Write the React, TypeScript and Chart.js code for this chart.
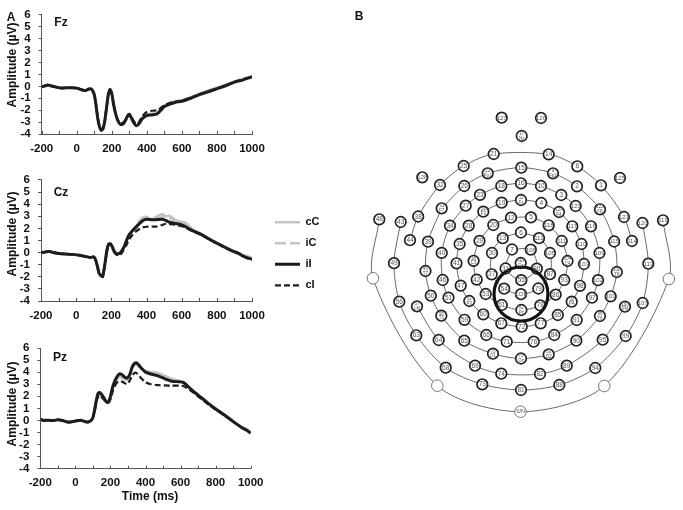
import React, { useEffect, useRef } from "react";
import { Chart, registerables } from "chart.js";

Chart.register(...registerables);

const FONT = "'Liberation Sans', Arial, sans-serif";
const LEGEND_ORDER = ["cC", "iC", "iI", "cI"];

const FZ_TIME = [-200,-180,-165,-150,-120,-90,-60,-30,0,30,50,70,85,100,110,120,130,140,150,160,170,180,190,200,210,220,235,250,265,280,290,300,310,325,340,355,375,400,430,460,480,500,530,560,600,650,700,750,800,850,900,950,1000];
const FZ_II = [-0.05,0.05,0.12,0.05,-0.05,-0.15,-0.12,-0.12,-0.15,-0.3,-0.35,-0.22,-0.25,-0.7,-1.6,-2.7,-3.4,-3.7,-3.55,-2.9,-1.8,-0.7,-0.25,-0.6,-1.5,-2.2,-2.9,-3.2,-3.15,-2.8,-2.5,-2.35,-2.6,-3.05,-3.3,-3.15,-2.7,-2.45,-2.4,-2.3,-2.0,-1.7,-1.5,-1.35,-1.25,-1.0,-0.7,-0.45,-0.2,0.05,0.35,0.55,0.8];
const FZ_CI = [-0.05,0.05,0.1,0.05,-0.05,-0.13,-0.12,-0.12,-0.15,-0.28,-0.33,-0.22,-0.25,-0.68,-1.55,-2.65,-3.35,-3.62,-3.5,-2.85,-1.75,-0.7,-0.28,-0.62,-1.5,-2.2,-2.85,-3.12,-3.05,-2.75,-2.45,-2.3,-2.5,-2.9,-3.15,-3.0,-2.5,-2.15,-2.05,-2.0,-1.8,-1.6,-1.4,-1.3,-1.2,-0.95,-0.7,-0.42,-0.18,0.08,0.38,0.58,0.8];
const FZ_CC = [-0.05,0.05,0.1,0.05,-0.05,-0.13,-0.12,-0.12,-0.15,-0.28,-0.33,-0.22,-0.25,-0.7,-1.58,-2.7,-3.38,-3.65,-3.5,-2.88,-1.78,-0.72,-0.3,-0.62,-1.5,-2.2,-2.88,-3.15,-3.1,-2.78,-2.48,-2.32,-2.55,-3.0,-3.25,-3.1,-2.62,-2.35,-2.3,-2.2,-1.9,-1.6,-1.42,-1.25,-1.15,-0.9,-0.6,-0.35,-0.1,0.15,0.42,0.65,0.85];
const FZ_IC = [-0.05,0.05,0.11,0.05,-0.05,-0.14,-0.12,-0.12,-0.15,-0.3,-0.34,-0.22,-0.25,-0.7,-1.6,-2.68,-3.38,-3.68,-3.52,-2.88,-1.78,-0.7,-0.28,-0.6,-1.5,-2.2,-2.88,-3.18,-3.12,-2.8,-2.5,-2.34,-2.58,-3.02,-3.28,-3.12,-2.65,-2.4,-2.32,-2.22,-1.95,-1.65,-1.45,-1.3,-1.2,-0.95,-0.65,-0.4,-0.15,0.1,0.4,0.6,0.82];

const CZ_TIME = [-200,-175,-150,-130,-100,-60,-20,20,50,80,100,110,120,130,140,150,155,165,175,185,195,205,215,230,240,255,270,285,300,320,340,360,380,400,430,460,490,510,530,560,590,620,650,680,710,740,770,800,830,860,890,920,950,975,1000];
const CZ_II = [0,0.05,0.08,0,-0.08,-0.12,-0.15,-0.22,-0.32,-0.4,-0.35,-0.6,-1.1,-1.7,-1.9,-2.0,-1.7,-0.8,0.2,0.7,0.72,0.5,0.15,-0.1,-0.1,0.05,0.4,0.95,1.45,1.8,2.1,2.4,2.65,2.75,2.7,2.72,2.75,2.65,2.5,2.4,2.35,2.15,1.9,1.7,1.5,1.25,1.0,0.78,0.55,0.33,0.12,-0.05,-0.3,-0.45,-0.55];
const CZ_CI = [0,0.05,0.08,0,-0.08,-0.12,-0.15,-0.22,-0.32,-0.4,-0.35,-0.55,-1.05,-1.6,-1.85,-1.95,-1.75,-0.9,0.1,0.65,0.7,0.45,0.05,-0.2,-0.25,-0.12,0.2,0.6,1.05,1.45,1.75,1.95,2.08,2.13,2.15,2.15,2.28,2.38,2.35,2.3,2.22,2.08,1.85,1.65,1.45,1.22,0.98,0.76,0.53,0.32,0.12,-0.05,-0.3,-0.45,-0.55];
const CZ_CC = [0,0.05,0.08,0,-0.08,-0.12,-0.15,-0.22,-0.32,-0.4,-0.35,-0.6,-1.1,-1.65,-1.85,-1.95,-1.65,-0.8,0.2,0.68,0.7,0.48,0.12,-0.12,-0.12,0.02,0.35,0.9,1.4,1.8,2.15,2.6,2.9,2.95,2.72,3.0,3.18,3.0,3.05,2.75,2.55,2.5,2.1,1.75,1.55,1.3,1.05,0.8,0.6,0.38,0.18,0,-0.2,-0.3,-0.42];
const CZ_IC = [0,0.05,0.08,0,-0.08,-0.12,-0.15,-0.22,-0.32,-0.4,-0.35,-0.6,-1.1,-1.68,-1.88,-1.98,-1.68,-0.8,0.2,0.68,0.7,0.48,0.12,-0.12,-0.12,0.02,0.38,0.9,1.42,1.8,2.12,2.5,2.8,2.85,2.7,2.85,3.0,2.85,2.85,2.6,2.45,2.35,2.0,1.72,1.52,1.28,1.02,0.78,0.57,0.35,0.15,-0.02,-0.25,-0.38,-0.48];

const PZ_TIME = [-200,-180,-160,-140,-120,-100,-70,-40,-10,30,50,70,90,100,110,120,130,140,155,170,180,190,200,215,235,250,265,280,295,310,325,340,355,375,400,430,470,510,550,590,615,640,670,700,750,800,850,900,950,975,1000];
const PZ_II = [0.1,0,0.02,0,0,0.05,-0.02,-0.15,-0.08,0.02,-0.08,-0.15,0,0.25,0.9,1.7,2.25,2.3,2.05,1.7,1.5,1.55,2.0,2.9,3.55,3.85,3.8,3.6,3.5,3.8,4.45,4.75,4.7,4.35,4.0,3.85,3.7,3.45,3.25,3.2,3.15,2.85,2.45,2.1,1.5,0.95,0.45,-0.1,-0.6,-0.8,-1.05];
const PZ_CI = [0.1,0,0.02,0,0,0.05,-0.02,-0.12,-0.08,0.02,-0.06,-0.12,0,0.2,0.75,1.5,2.0,2.05,1.85,1.6,1.45,1.5,1.75,2.5,3.1,3.25,3.22,3.1,3.0,3.3,3.75,3.95,3.85,3.5,3.15,3.0,2.93,2.9,2.88,2.88,2.85,2.65,2.35,2.0,1.42,0.9,0.42,-0.1,-0.6,-0.8,-1.05];
const PZ_CC = [0.1,0,0.02,0,0,0.05,-0.02,-0.12,-0.08,0.02,-0.06,-0.12,0,0.22,0.8,1.55,2.0,2.0,1.82,1.6,1.45,1.5,1.85,2.7,3.35,3.6,3.55,3.4,3.35,3.7,4.35,4.6,4.55,4.3,4.1,4.0,3.95,3.7,3.45,3.3,3.2,2.85,2.45,2.1,1.55,1.0,0.5,-0.05,-0.55,-0.72,-0.95];
const PZ_IC = [0.1,0,0.02,0,0,0.05,-0.02,-0.14,-0.08,0.02,-0.07,-0.14,0,0.24,0.85,1.6,2.1,2.12,1.92,1.62,1.45,1.52,1.9,2.75,3.4,3.65,3.62,3.45,3.4,3.72,4.38,4.65,4.6,4.3,4.05,3.95,3.85,3.6,3.38,3.25,3.15,2.82,2.42,2.05,1.5,0.98,0.48,-0.08,-0.58,-0.75,-1.0];

// Sensor net layout: [label, map x, map y]
const SENSORS: [string, number, number][] = [
  ["127",501.7,117.7],["126",541,118],["17\nNz",521.7,136],["128",422.3,177.3],["125",620,178],
  ["21",493.7,154],["14",548.7,154.3],["25",463.7,166],["8",577.3,166.3],["32",440,185],["1",601,185.3],
  ["38",418.2,216.5],["121",624,217],["44",410,240.2],["114",632,241],
  ["48",379.3,219.3],["119",663,220.3],["43",400.7,222],["120",642.5,223],
  ["49",394,263.2],["56",399.3,301.7],["63",416.3,335.3],["68",445.7,367.7],["73",482.3,384.3],["81",521,390],
  ["88",559.3,385],["94",595.3,368],["99",625.7,336],["107",642.7,303],["113",648.3,263.7],
  ["57\nLM",417,306.4],["64",438.7,340],["69",475,365.7],["74",501.3,373.7],["82",540,374],["89",566.7,365.7],["95",602.7,339.7],["100\nRM",625,306.7],
  ["22\nFp1",487.7,173.3],["15",521.3,167.7],["9\nFp2",553,173.3],["26",464.3,186],["2",577,186.3],
  ["33\nF7",441.7,208.3],["122\nF8",600,209.3],["39",428,241.7],["115",614.2,241.5],["45\nT7",425.5,271],["108\nT8",616.8,272],
  ["50",430.8,295.7],["101",610.7,296.3],["58\nT5",441.3,315.7],["96\nT6",600,316],["65",464.3,340.7],["90",576.3,340.7],["70\nO1",493,353.7],["83\nO2",548.7,354.3],["75\nOz",521,358.5],
  ["16",521,183.3],["18",501.3,186],["10",541,186],["23",480,194.8],["3",561.3,195],["27",465.7,205.7],["123",575.7,206],
  ["34",450,225.7],["116",591,226.3],["40",441.7,252.9],["109",599.5,253],["46",442.7,280],["102",598,280.2],["51",448.5,297.7],["97",592,297.7],
  ["59",464.5,319.8],["91",576.7,320],["66",486.3,335],["84",554.3,335],["71",506.7,341.7],["76",533.7,341.7],
  ["11\nFz",521,200],["19",501.7,202.7],["4",541.3,203],["24\nF3",483.3,211.7],["124\nF4",559,212],["28",468.7,225.7],["117",572.3,226.3],
  ["35",459.6,244],["110",581.5,244],["41",456.5,263.3],["103",584,264],["47",460.7,285.6],["98",580,285.8],["52\nP3",469.3,301],["92\nP4",571.7,301.7],
  ["60",483.3,314.3],["85",557.8,315],["67",501.3,323.3],["77",540.7,323.3],["72",521.7,326.7],
  ["12",511,217.7],["5",531,217.4],["20",493.3,225],["118",548.7,225.3],["29",479.5,240.9],["111",561.7,241],["36\nC3",473.6,260.8],["104\nC4",567.5,261],
  ["42",476.7,279.6],["93",564.2,280],["53",485.7,294],["86",555.7,294.6],["61",501.8,305],["78",540.3,305.4],["62\nPz",521.4,310],
  ["6",521,232.5],["13",502.7,238.2],["112",539,238.2],["30",492,253],["7",512,249.5],["106",530.8,249.6],["105",550,253],
  ["37",491.7,274.3],["87",550,274.2],["31",505.6,268.5],["80",536.8,268.6],["REF\nCz",520.7,263],["55",521.3,280.2],
  ["54",504.2,288.7],["79",538.3,288.5],["COB",521,294.2],
];
const BLANK_NODES: [string, number, number][] = [
  ["L",373,278.3],["LL",437.3,385.7],["S/N",520.5,411.7],["LR",604.3,386],["R",668.8,279],
];
const RINGS: string[][] = [
  ["48","L","LL","S/N","LR","R","119"],
  ["43","49","56","63","68","73","81","88","94","99","107","113","120"],
  ["44","38","32","25","21","14","8","1","121","114"],
  ["57","64","69","74","82","89","95","100"],
  ["33","39","45","50","58","65","70","75","83","90","96","101","108","115","122","2","9","15","22","26","33"],
  ["27","34","40","46","51","59","66","71","76","84","91","97","102","109","116","123","3","10","16","18","23","27"],
  ["19","24","28","35","41","47","52","60","67","72","77","85","92","98","103","110","117","124","4","11","19"],
  ["12","20","29","36","42","53","61","62","78","86","93","104","111","118","5","12"],
  ["6","13","30","37","54","COB","79","87","105","112","6"],
  ["7","31","55","80","106","7"],
];
const HIGHLIGHT = [[521, 294]];

const darkLine = "#1c1c1c";

function textPlugin(items: { text: string; x: number; y: number; rotate?: boolean }[]) {
  return {
    id: "panelText",
    afterDraw(chart: any) {
      const ctx = chart.ctx;
      ctx.save();
      ctx.fillStyle = "#111";
      ctx.font = `bold 12px ${FONT}`;
      ctx.textAlign = "center";
      ctx.textBaseline = "middle";
      for (const it of items) {
        ctx.save();
        ctx.translate(it.x, it.y);
        if (it.rotate) ctx.rotate(-Math.PI / 2);
        ctx.fillText(it.text, 0, 0);
        ctx.restore();
      }
      ctx.restore();
    },
  };
}

const innerTicks = {
  id: "innerTicks",
  beforeDatasetsDraw(chart: any) {
    const s = chart.scales.x;
    const ctx = chart.ctx;
    ctx.save();
    ctx.strokeStyle = "#555";
    ctx.lineWidth = 1;
    ctx.beginPath();
    s.ticks.forEach((_: any, i: number) => {
      const px = Math.round(s.getPixelForTick(i)) + 0.5;
      ctx.moveTo(px, s.top);
      ctx.lineTo(px, s.top - 3);
    });
    ctx.stroke();
    ctx.restore();
  },
};

function buildDatasets(t: number[], cC: number[], iC: number[], iI: number[], cI: number[]) {
  const pts = (v: number[]) => t.map((x, i) => ({ x, y: v[i] }));
  const base = { pointRadius: 0, tension: 0.25, fill: false, backgroundColor: "transparent" };
  return [
    { ...base, label: "iI", data: pts(iI), borderColor: darkLine, borderWidth: 3 },
    { ...base, label: "cI", data: pts(cI), borderColor: darkLine, borderWidth: 2.2, borderDash: [6, 3] },
    { ...base, label: "iC", data: pts(iC), borderColor: "#c4c4c4", borderWidth: 2.5, borderDash: [11, 4] },
    { ...base, label: "cC", data: pts(cC), borderColor: "#c4c4c4", borderWidth: 2.5 },
  ];
}

function EegPanel(props: any) {
  const ref = useRef<HTMLCanvasElement>(null);
  const { left, top, width, height, plot, showLegend, texts, series } = props;
  useEffect(() => {
    const legendNudge = {
      id: "legendNudge",
      beforeDraw(chart: any) {
        if (!showLegend) return;
        chart.legend.left = 265;
        chart.legend.right = width;
        chart.legend.top = 41.8;
      },
    };
    const chart = new Chart(ref.current as HTMLCanvasElement, {
      type: "line",
      data: { datasets: buildDatasets(series[0], series[1], series[2], series[3], series[4]) as any },
      plugins: [textPlugin(texts), legendNudge, innerTicks],
      options: {
        animation: false,
        responsive: false,
        devicePixelRatio: 1,
        layout: {
          autoPadding: false,
          padding: { top: plot.top, right: showLegend ? width - plot.right - 30 : width - plot.right, bottom: 0, left: 0 },
        },
        plugins: {
          tooltip: { enabled: false },
          title: { display: false },
          legend: {
            display: !!showLegend,
            position: "right",
            align: "start",
            maxWidth: 30,
            labels: {
              usePointStyle: true,
              pointStyle: "line",
              pointStyleWidth: 25,
              boxHeight: 11,
              padding: 10,
              color: "#111",
              font: { family: FONT, size: 11, weight: "bold" },
              generateLabels: (chart: any) =>
                Chart.defaults.plugins.legend.labels.generateLabels(chart).map((item: any) => {
                  const ds = chart.data.datasets[item.datasetIndex];
                  return { ...item, strokeStyle: ds.borderColor, lineWidth: ds.borderWidth, lineDash: ds.borderDash || [] };
                }),
              sort: (a: any, b: any) => LEGEND_ORDER.indexOf(a.text) - LEGEND_ORDER.indexOf(b.text),
            },
          },
        },
        scales: {
          x: {
            type: "linear",
            min: -200,
            max: 1000,
            afterFit: (s: any) => {
              s.height = height - plot.bottom;
              s.paddingLeft = 0;
              s.paddingRight = 0;
            },
            border: { color: "#555", width: 1 },
            grid: { drawOnChartArea: false, drawTicks: false, color: "#555" },
            ticks: {
              stepSize: 100,
              autoSkip: false,
              maxRotation: 0,
              padding: 7.5,
              color: "#111",
              font: { family: FONT, size: 11.5, weight: "bold" },
              callback: (v: any) => (Number(v) % 200 === 0 ? String(v) : ""),
            },
          },
          y: {
            type: "linear",
            min: -4,
            max: 6,
            afterFit: (s: any) => { s.width = plot.left; },
            border: { color: "#555", width: 1 },
            grid: { drawOnChartArea: false, color: "#555", tickLength: 3 },
            ticks: {
              stepSize: 1,
              autoSkip: false,
              padding: 8,
              color: "#111",
              font: { family: FONT, size: 11.5, weight: "bold" },
            },
          },
        },
      } as any,
    });
    return () => chart.destroy();
  }, []);
  return (
    <canvas
      ref={ref}
      width={width}
      height={height}
      style={{ position: "absolute", left, top, width, height, display: "block" }}
    />
  );
}

function SensorMap() {
  const ref = useRef<HTMLCanvasElement>(null);
  useEffect(() => {
    const all = new Map<string, { x: number; y: number }>();
    for (const [l, x, y] of [...SENSORS, ...BLANK_NODES]) all.set(l.split("\n")[0], { x, y });
    const labelPlugin = {
      id: "sensorLabels",
      afterDatasetsDraw(chart: any) {
        const ctx = chart.ctx;
        const sx = chart.scales.x;
        const sy = chart.scales.y;
        ctx.save();
        ctx.fillStyle = "#555";
        ctx.textAlign = "center";
        ctx.textBaseline = "middle";
        for (const [l, x, y] of SENSORS) {
          const parts = l.split("\n");
          const px = sx.getPixelForValue(x);
          const py = sy.getPixelForValue(y);
          if (parts.length > 1) {
            ctx.font = `4.5px ${FONT}`;
            ctx.fillText(parts[0], px, py - 2.3);
            ctx.fillText(parts[1], px, py + 2.4);
          } else {
            ctx.font = `${l.length > 2 ? 6 : 6.5}px ${FONT}`;
            ctx.fillText(l, px, py + 0.3);
          }
        }
        ctx.font = `5.5px ${FONT}`;
        ctx.fillText("S/N", sx.getPixelForValue(520.5), sy.getPixelForValue(411.7));
        ctx.restore();
      },
    };
    const chart = new Chart(ref.current as HTMLCanvasElement, {
      type: "scatter",
      data: {
        datasets: [
          {
            label: "highlight",
            data: HIGHLIGHT.map(([x, y]) => ({ x, y })),
            pointRadius: 27,
            pointBorderWidth: 3.2,
            pointBorderColor: "#111",
            pointBackgroundColor: "transparent",
            showLine: false,
          },
          {
            label: "sensors",
            data: SENSORS.map(([, x, y]) => ({ x, y })),
            pointRadius: 5.3,
            pointBorderWidth: 1.7,
            pointBorderColor: "#222",
            pointBackgroundColor: "#fff",
            showLine: false,
          },
          {
            label: "references",
            data: BLANK_NODES.map(([, x, y]) => ({ x, y })),
            pointRadius: 5.8,
            pointBorderWidth: 0.8,
            pointBorderColor: "#555",
            pointBackgroundColor: "#fff",
            showLine: false,
          },
          ...RINGS.map((ring, i) => ({
            label: `ring${i}`,
            data: ring.map((id) => all.get(id)),
            showLine: true,
            pointRadius: 0,
            borderColor: "#444",
            borderWidth: 0.8,
            tension: 0.3,
            fill: false,
          })),
        ] as any,
      },
      plugins: [labelPlugin, textPlugin([{ text: "B", x: 19, y: 17 }])],
      options: {
        animation: false,
        responsive: false,
        devicePixelRatio: 1,
        layout: { autoPadding: false, padding: 0 },
        plugins: { legend: { display: false }, tooltip: { enabled: false } },
        scales: {
          x: { type: "linear", min: 340, max: 683, display: false },
          y: { type: "linear", min: 0, max: 430, reverse: true, display: false },
        },
      } as any,
    });
    return () => chart.destroy();
  }, []);
  return (
    <canvas
      ref={ref}
      width={343}
      height={430}
      style={{ position: "absolute", left: 340, top: 0, width: 343, height: 430, display: "block" }}
    />
  );
}

export default function App() {
  return (
    <div style={{ position: "fixed", left: 0, top: 0, width: 683, height: 510, background: "#fff", overflow: "hidden" }}>
      <EegPanel
        left={0}
        top={0}
        width={270}
        height={160}
        plot={{ left: 41.7, right: 252, top: 11, bottom: 134 }}
        series={[FZ_TIME, FZ_CC, FZ_IC, FZ_II, FZ_CI]}
        texts={[
          { text: "A", x: 11, y: 18 },
          { text: "Fz", x: 61, y: 23 },
          { text: "Amplitude (\u00b5V)", x: 13, y: 65, rotate: true },
        ]}
      />
      <EegPanel
        left={0}
        top={165}
        width={340}
        height={160}
        plot={{ left: 41, right: 252, top: 14.7, bottom: 136 }}
        showLegend
        series={[CZ_TIME, CZ_CC, CZ_IC, CZ_II, CZ_CI]}
        texts={[
          { text: "Cz", x: 61, y: 28 },
          { text: "Amplitude (\u00b5V)", x: 13, y: 69, rotate: true },
        ]}
      />
      <EegPanel
        left={0}
        top={330}
        width={270}
        height={180}
        plot={{ left: 40.3, right: 250.7, top: 18, bottom: 138.7 }}
        series={[PZ_TIME, PZ_CC, PZ_IC, PZ_II, PZ_CI]}
        texts={[
          { text: "Pz", x: 60, y: 28 },
          { text: "Amplitude (\u00b5V)", x: 13, y: 74, rotate: true },
          { text: "Time (ms)", x: 150, y: 167 },
        ]}
      />
      <SensorMap />
    </div>
  );
}
